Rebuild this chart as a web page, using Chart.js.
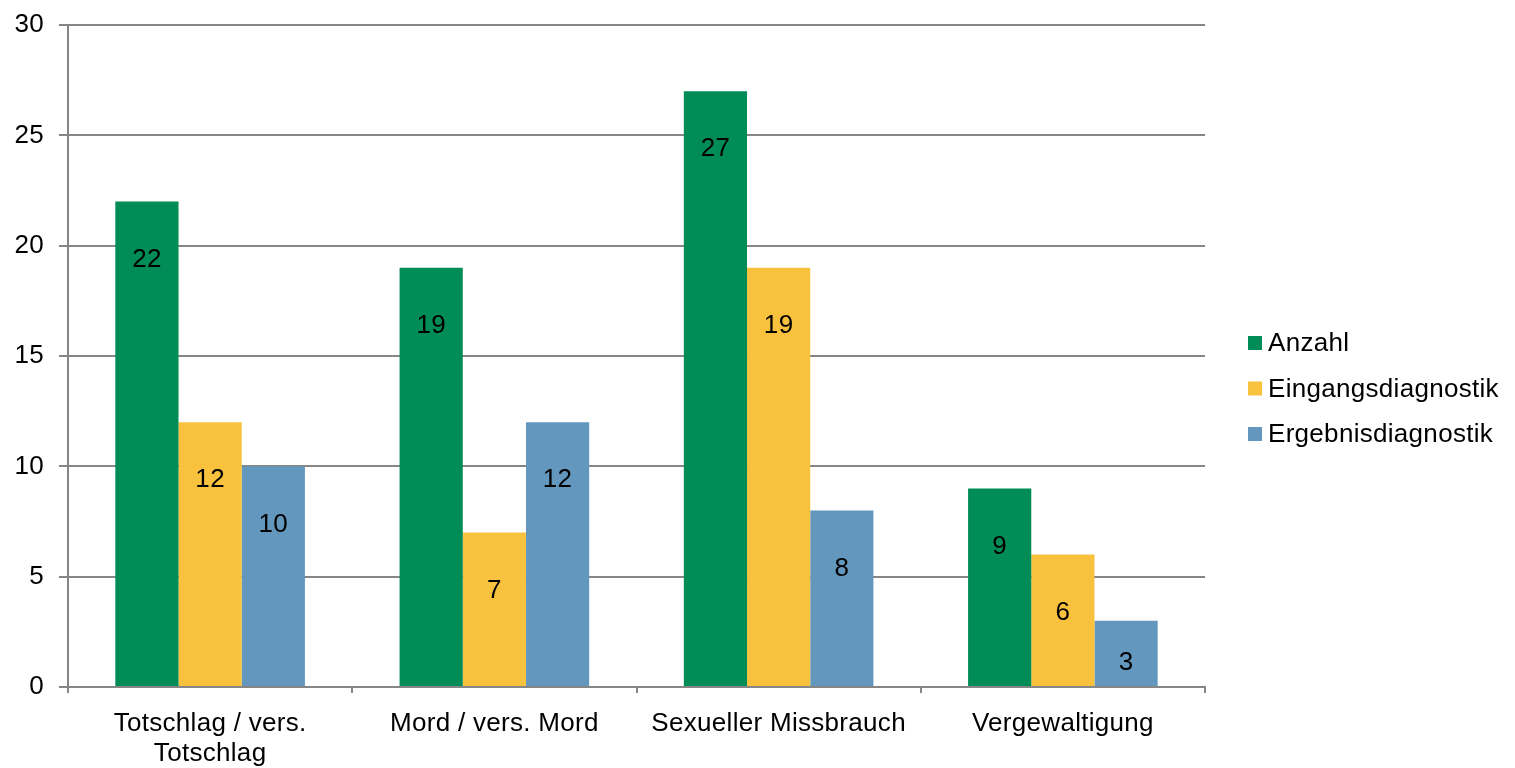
<!DOCTYPE html>
<html lang="de">
<head>
    <meta charset="UTF-8">
    <title>Delikte</title>
    <style>
        body { margin: 0; background: #fff; }
        #wrap { width: 1515px; height: 768px; }
    </style>
    <script src="https://cdn.jsdelivr.net/npm/chart.js"></script>
</head>
<body>
    <div id="wrap"><canvas id="chart"></canvas></div>

    <script>
        const categories = [['Totschlag / vers.', 'Totschlag'], 'Mord / vers. Mord', 'Sexueller Missbrauch', 'Vergewaltigung'];
        const seriesNames = ['Anzahl', 'Eingangsdiagnostik', 'Ergebnisdiagnostik'];
        const anzahl = [22, 19, 27, 9];
        const eingang = [12, 7, 19, 6];
        const ergebnis = [10, 12, 8, 3];
        const yTicks = [0, 5, 10, 15, 20, 25, 30];
        const colors = ['#008c56', '#f9c23e', '#6397bd'];

        const axisGray = '#868686';
        const fontFamily = 'Liberation Sans, Arial, sans-serif';
        const fontSize = 26;
        const fontCss = fontSize + 'px ' + fontFamily;

        // Excel-like slightly wider text
        const spacing = {
            id: 'spacing',
            beforeUpdate(chart) { chart.ctx.letterSpacing = '0.3px'; },
            beforeDraw(chart) { chart.ctx.letterSpacing = '0.3px'; }
        };

        // value labels inside the bars, a bit below the top
        const valueLabels = {
            id: 'valueLabels',
            afterDatasetsDraw(chart) {
                const ctx = chart.ctx;
                ctx.save();
                ctx.font = fontCss;
                ctx.fillStyle = '#000';
                ctx.textAlign = 'center';
                ctx.textBaseline = 'middle';
                chart.data.datasets.forEach((ds, i) => {
                    chart.getDatasetMeta(i).data.forEach((bar, j) => {
                        const y = Math.min(bar.y + 58, bar.base - 23);
                        ctx.fillText(ds.data[j], bar.x, y);
                    });
                });
                ctx.restore();
            }
        };

        // legend on the right, square + text close together
        const sideLegend = {
            id: 'sideLegend',
            afterDraw(chart) {
                const ctx = chart.ctx;
                const x = chart.chartArea.right + 43;
                const y0 = chart.height / 2 - 41;
                ctx.save();
                ctx.font = fontCss;
                ctx.textAlign = 'left';
                ctx.textBaseline = 'middle';
                chart.data.datasets.forEach((ds, i) => {
                    const y = y0 + i * 45.5;
                    ctx.fillStyle = ds.backgroundColor;
                    ctx.fillRect(x, y - 7, 14, 14);
                    ctx.fillStyle = '#000';
                    ctx.fillText(ds.label, x + 20, y + 1);
                });
                ctx.restore();
            }
        };

        new Chart(document.getElementById('chart'), {
            type: 'bar',
            data: {
                labels: categories,
                datasets: [
                    { label: seriesNames[0], data: anzahl, backgroundColor: colors[0] },
                    { label: seriesNames[1], data: eingang, backgroundColor: colors[1] },
                    { label: seriesNames[2], data: ergebnis, backgroundColor: colors[2] }
                ],
            },
            options: {
                responsive: true,
                maintainAspectRatio: false,
                animation: false,
                layout: { padding: { left: 0, top: 25, right: 310, bottom: 0 } },
                datasets: { bar: { categoryPercentage: 0.667, barPercentage: 1 } },
                plugins: {
                    tooltip: { enabled: false },
                    legend: { display: false }
                },
                scales: {
                    x: {
                        afterFit(scale) { scale.height = 81; },
                        grid: {
                            drawOnChartArea: false,
                            color: axisGray,
                            lineWidth: 2,
                            tickLength: 6
                        },
                        border: { color: axisGray, width: 2 },
                        ticks: {
                            color: '#000',
                            padding: 16,
                            maxRotation: 0,
                            font: { family: fontFamily, size: fontSize, lineHeight: 1.16 }
                        }
                    },
                    y: {
                        min: 0,
                        max: 30,
                        afterBuildTicks(scale) {
                            scale.ticks = yTicks.map(v => ({ value: v }));
                        },
                        afterFit(scale) {
                            scale.width = 68;
                            scale.paddingTop = 0;
                            scale.paddingBottom = 0;
                        },
                        grid: { color: axisGray, lineWidth: 2, tickLength: 9 },
                        border: { color: axisGray, width: 2 },
                        ticks: { color: '#000', padding: 15, font: { family: fontFamily, size: fontSize } }
                    }
                }
            },
            plugins: [spacing, valueLabels, sideLegend]
        });
    </script>
</body>
</html>
